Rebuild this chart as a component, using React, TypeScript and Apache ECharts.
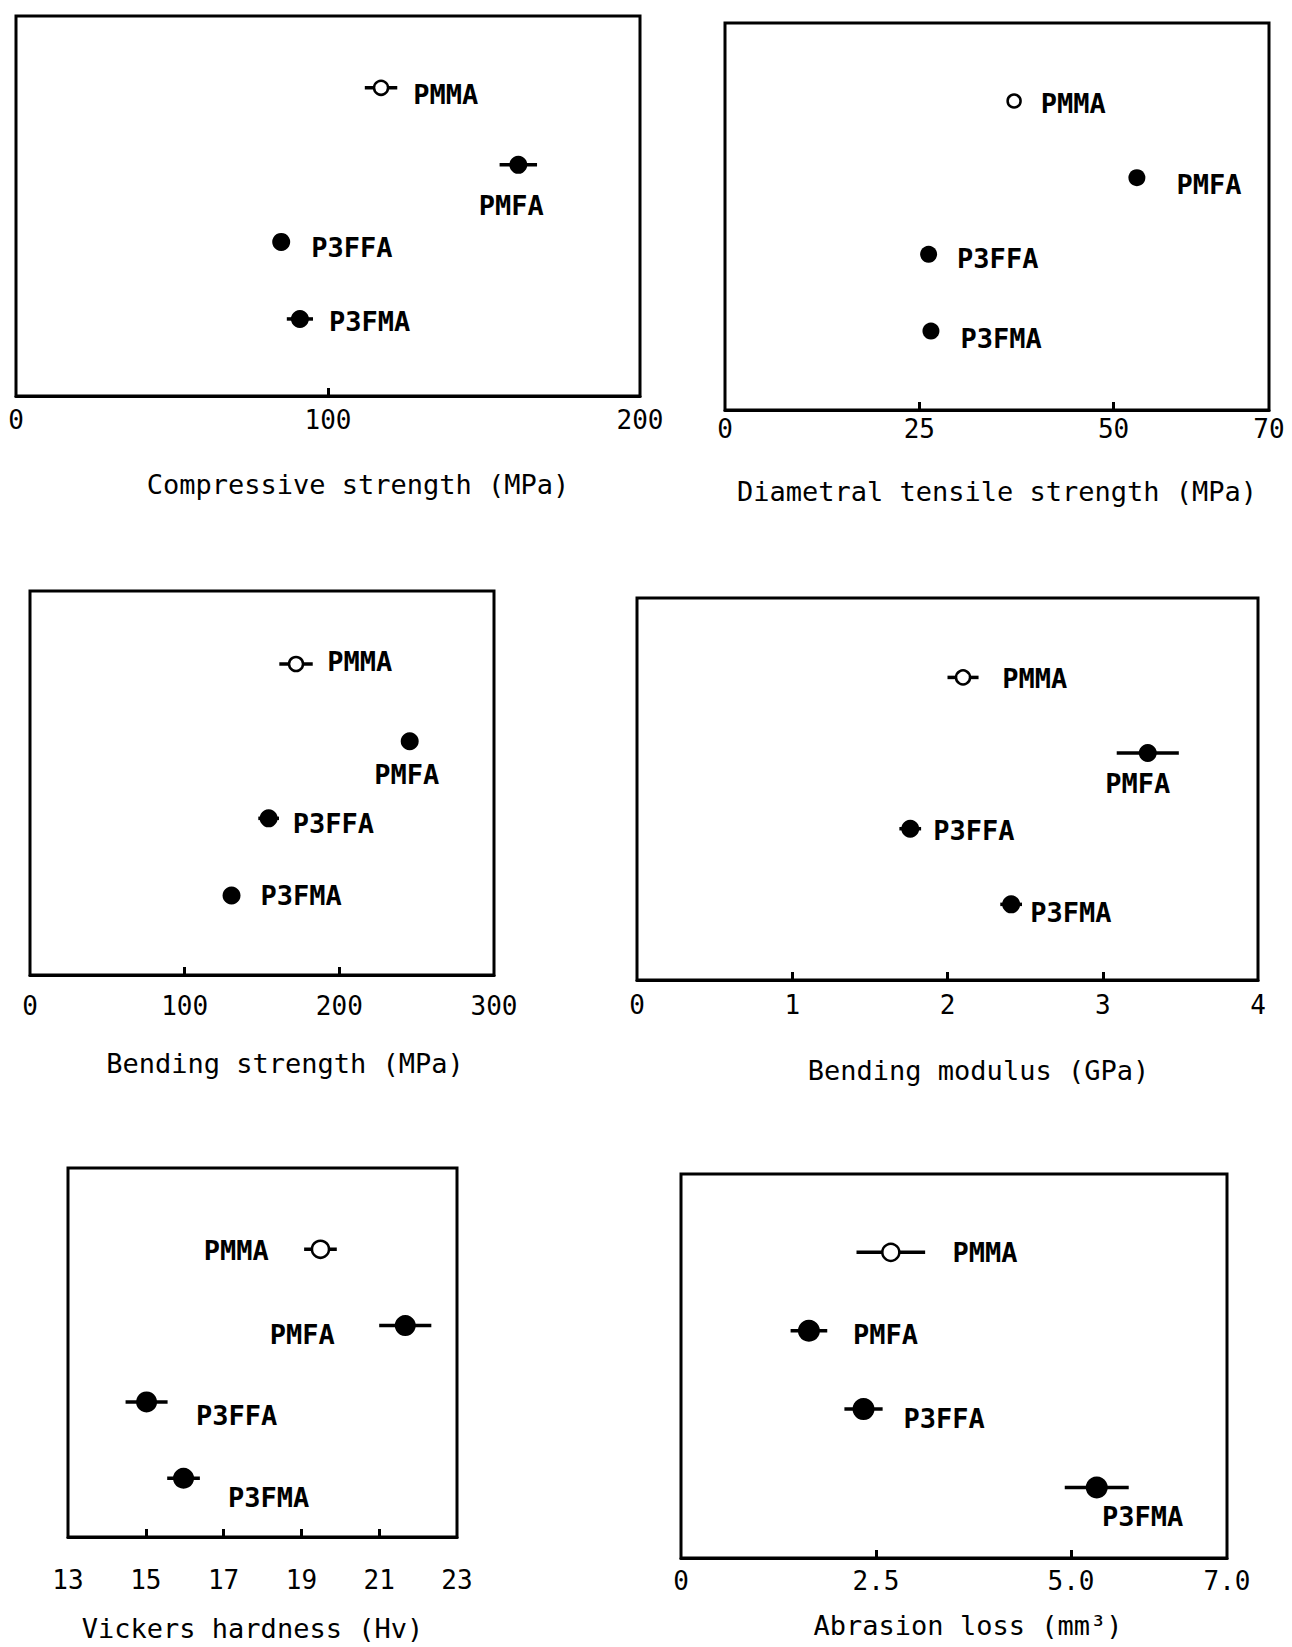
import React, { useEffect, useRef } from "react";
import * as echarts from "echarts";

// ---------- data ----------
const materials = ["PMMA", "PMFA", "P3FFA", "P3FMA"];
const filledMarker = [false, true, true, true];
const rowIndex = [1, 2, 3, 4];

const compressiveMean = [117, 161, 85, 91];
const compressiveSD = [5.2, 6, 0.8, 4.2];
const compressiveTicks = [0, 100, 200];
const compressiveTickLabels = ["0", "100", "200"];

const tensileMean = [37.2, 53, 26.2, 26.5];
const tensileSD = [0, 0, 0, 0];
const tensileTicks = [0, 25, 50, 70];
const tensileTickLabels = ["0", "25", "50", "70"];

const bendingStrengthMean = [172, 245.5, 154.3, 130.3];
const bendingStrengthSD = [10.8, 0, 6.7, 0];
const bendingStrengthTicks = [0, 100, 200, 300];
const bendingStrengthTickLabels = ["0", "100", "200", "300"];

const modulusMean = [2.1, 3.29, 1.76, 2.41];
const modulusSD = [0.1, 0.2, 0.07, 0.07];
const modulusTicks = [0, 1, 2, 3, 4];
const modulusTickLabels = ["0", "1", "2", "3", "4"];

const hardnessMean = [19.49, 21.67, 15.02, 15.97];
const hardnessSD = [0.42, 0.67, 0.54, 0.42];
const hardnessTicks = [13, 15, 17, 19, 21, 23];
const hardnessTickLabels = ["13", "15", "17", "19", "21", "23"];

const abrasionMean = [2.69, 1.64, 2.34, 5.33];
const abrasionSD = [0.44, 0.235, 0.245, 0.41];
const abrasionTicks = [0, 2.5, 5, 7];
const abrasionTickLabels = ["0", "2.5", "5.0", "7.0"];

const titles = [
  "Compressive strength (MPa)",
  "Diametral tensile strength (MPa)",
  "Bending strength (MPa)",
  "Bending modulus (GPa)",
  "Vickers hardness (Hv)",
  "Abrasion loss (mm³)",
];

// ---------- layout / style ----------
const FONT = "DejaVu Sans Mono";
type LabelCfg = [string, number, number, number]; // position, distance, dx, dy

const panels = [
  {
    mean: compressiveMean, sd: compressiveSD, ticks: compressiveTicks, tickLabels: compressiveTickLabels,
    grid: { left: 16, top: 16, width: 624, height: 380 }, yMin: 0.068, yMax: 5.0,
    labelMargin: 11, nameGap: 74.5, nameShift: 30, size: 18, sizeOpen: 14,
    labels: [["right", 24, 0, 7], ["bottom", 18, -7, 0], ["right", 21, 0, 6], ["right", 20, 0, 3]] as LabelCfg[],
  },
  {
    mean: tensileMean, sd: tensileSD, ticks: tensileTicks, tickLabels: tensileTickLabels,
    grid: { left: 725, top: 23, width: 544, height: 387 }, yMin: -0.018, yMax: 5.03,
    labelMargin: 5.5, nameGap: 68, nameShift: 0, size: 17, sizeOpen: 13,
    labels: [["right", 19, 0, 2], ["right", 31, 0, 7], ["right", 20, 0, 4], ["right", 21, 0, 7]] as LabelCfg[],
  },
  {
    mean: bendingStrengthMean, sd: bendingStrengthSD, ticks: bendingStrengthTicks, tickLabels: bendingStrengthTickLabels,
    grid: { left: 30, top: 591, width: 464, height: 384 }, yMin: 0.054, yMax: 5.03,
    labelMargin: 18, nameGap: 74.5, nameShift: 23, size: 18, sizeOpen: 14,
    labels: [["right", 23, 0, -3], ["bottom", 11, -3, 0], ["right", 15, 0, 5], ["right", 20, 0, 0]] as LabelCfg[],
  },
  {
    mean: modulusMean, sd: modulusSD, ticks: modulusTicks, tickLabels: modulusTickLabels,
    grid: { left: 637, top: 598, width: 621, height: 382 }, yMin: -0.05, yMax: 5.0,
    labelMargin: 12, nameGap: 76.5, nameShift: 31, size: 18, sizeOpen: 14,
    labels: [["right", 31, 0, 1], ["bottom", 8, -10, 0], ["right", 14, 0, 2], ["right", 10, 0, 8]] as LabelCfg[],
  },
  {
    mean: hardnessMean, sd: hardnessSD, ticks: hardnessTicks, tickLabels: hardnessTickLabels,
    grid: { left: 68, top: 1168, width: 389, height: 369 }, yMin: -0.065, yMax: 4.77,
    labelMargin: 30, nameGap: 77.5, nameShift: -10, size: 21, sizeOpen: 17,
    labels: [["left", 42, 0, 1], ["left", 60, 0, 9], ["right", 39, 0, 14], ["right", 34, 0, 19]] as LabelCfg[],
  },
  {
    mean: abrasionMean, sd: abrasionSD, ticks: abrasionTicks, tickLabels: abrasionTickLabels,
    grid: { left: 681, top: 1174, width: 546, height: 384 }, yMin: 0, yMax: 4.9,
    labelMargin: 10, nameGap: 53.5, nameShift: 14, size: 22, sizeOpen: 17,
    labels: [["right", 52, 0, 0], ["right", 33, 0, 4], ["right", 29, 0, 9], ["bottom", 5, 46, 0]] as LabelCfg[],
  },
];

function buildOption() {
  const grid: any[] = [];
  const xAxis: any[] = [];
  const yAxis: any[] = [];
  const series: any[] = [];

  panels.forEach((p, k) => {
    grid.push({
      ...p.grid,
      show: true,
      borderColor: "#000",
      borderWidth: 3,
      backgroundColor: "transparent",
      containLabel: false,
    });
    const shift = p.nameShift;
    xAxis.push({
      type: "value",
      gridIndex: k,
      min: p.ticks[0],
      max: p.ticks[p.ticks.length - 1],
      splitLine: { show: false },
      axisLine: { show: true, onZero: false, lineStyle: { color: "#000", width: 3 } },
      axisTick: {
        show: true,
        inside: true,
        length: 8,
        lineStyle: { color: "#000", width: 3 },
        customValues: p.ticks.slice(1, -1),
      },
      axisLabel: {
        show: true,
        customValues: p.ticks,
        margin: p.labelMargin,
        color: "#000",
        fontFamily: FONT,
        fontSize: 26,
        showMinLabel: true,
        showMaxLabel: true,
        formatter: (v: number) => {
          const i = p.ticks.findIndex((t) => Math.abs(t - v) < 1e-9);
          return i >= 0 ? p.tickLabels[i] : "";
        },
      },
      name: titles[k],
      nameLocation: "middle",
      nameGap: p.nameGap,
      nameTextStyle: {
        color: "#000",
        fontFamily: FONT,
        fontSize: 27,
        padding: shift >= 0 ? [0, 0, 0, 2 * shift] : [0, -2 * shift, 0, 0],
      },
    });
    yAxis.push({
      type: "value",
      gridIndex: k,
      min: p.yMin,
      max: p.yMax,
      inverse: true,
      show: false,
      splitLine: { show: false },
    });

    const errData = p.mean
      .map((m, i) => [m - p.sd[i], m + p.sd[i], rowIndex[i]])
      .filter((d, i) => p.sd[i] > 0);
    series.push({
      type: "custom",
      xAxisIndex: k,
      yAxisIndex: k,
      data: errData,
      encode: { x: [0, 1], y: 2 },
      z: 2,
      silent: true,
      renderItem: (params: any, api: any) => {
        const y = api.value(2);
        const a = api.coord([api.value(0), y]);
        const b = api.coord([api.value(1), y]);
        return {
          type: "line",
          shape: { x1: a[0], y1: a[1], x2: b[0], y2: b[1] },
          style: { stroke: "#000", lineWidth: 3.5 },
        };
      },
    });

    series.push({
      type: "scatter",
      xAxisIndex: k,
      yAxisIndex: k,
      z: 3,
      itemStyle: { opacity: 1 },
      emphasis: { disabled: true },
      data: p.mean.map((m, i) => {
        const [pos, dist, dx, dy] = p.labels[i];
        const filled = filledMarker[i];
        return {
          name: materials[i],
          value: [m, rowIndex[i]],
          symbol: "circle",
          symbolSize: filled ? p.size : p.sizeOpen,
          itemStyle: filled
            ? { color: "#000", borderWidth: 0, opacity: 1 }
            : { color: "#fff", borderColor: "#000", borderWidth: 2.5, opacity: 1 },
          label: {
            show: true,
            formatter: "{b}",
            position: pos,
            distance: dist,
            offset: [dx, dy],
            color: "#000",
            fontFamily: FONT,
            fontWeight: "bold",
            fontSize: 27,
          },
        };
      }),
    });
  });

  return {
    animation: false,
    backgroundColor: "#fff",
    grid,
    xAxis,
    yAxis,
    series,
  };
}

export default function App() {
  const ref = useRef<HTMLDivElement>(null);
  useEffect(() => {
    if (!ref.current) return;
    const chart = echarts.init(ref.current, undefined, { renderer: "svg" });
    chart.setOption(buildOption() as any);
    return () => chart.dispose();
  }, []);
  return (
    <div
      ref={ref}
      style={{ position: "absolute", left: 0, top: 0, width: 1292, height: 1647, background: "#fff" }}
    />
  );
}
